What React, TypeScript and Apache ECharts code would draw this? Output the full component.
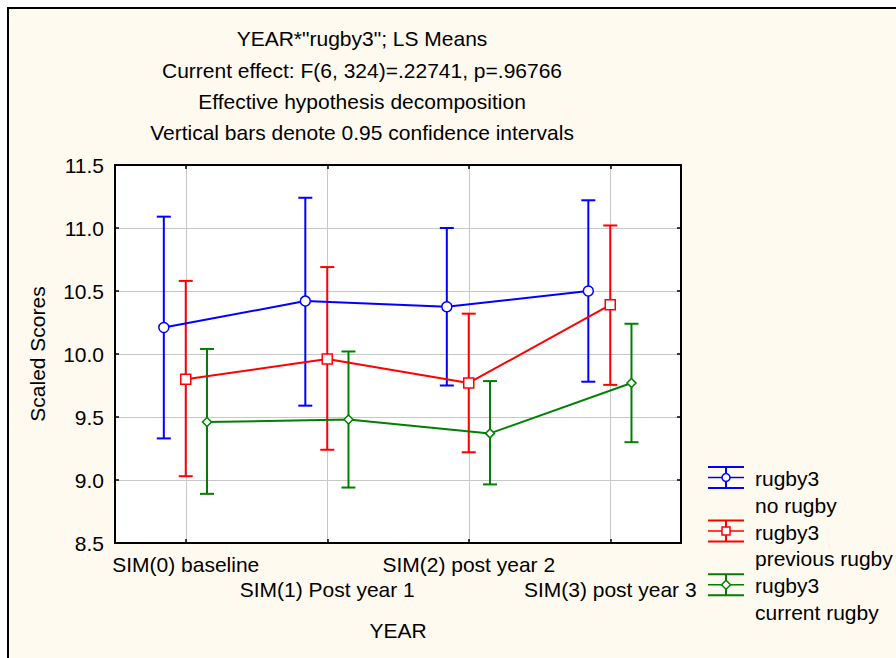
import React, { useEffect, useRef } from 'react';
import * as echarts from 'echarts';

const categories = ['SIM(0) baseline', 'SIM(1) Post year 1', 'SIM(2) post year 2', 'SIM(3) post year 3'];
const yTicks = [8.5, 9.0, 9.5, 10.0, 10.5, 11.0, 11.5];

const noRugbyMean = [10.21, 10.42, 10.375, 10.5];
const noRugbyLow = [9.33, 9.59, 9.75, 9.78];
const noRugbyHigh = [11.09, 11.24, 11.0, 11.22];

const prevRugbyMean = [9.8, 9.96, 9.77, 10.39];
const prevRugbyLow = [9.03, 9.24, 9.22, 9.755];
const prevRugbyHigh = [10.58, 10.69, 10.32, 11.02];

const curRugbyMean = [9.46, 9.48, 9.37, 9.77];
const curRugbyLow = [8.89, 8.94, 8.965, 9.3];
const curRugbyHigh = [10.04, 10.02, 9.785, 10.24];

const titleLines = [
  'YEAR*"rugby3"; LS Means',
  'Current effect: F(6, 324)=.22741, p=.96766',
  'Effective hypothesis decomposition',
  'Vertical bars denote 0.95 confidence intervals',
];

const legendNames = [
  ['rugby3', 'no rugby'],
  ['rugby3', 'previous rugby'],
  ['rugby3', 'current rugby'],
];

const FONT = '"Liberation Sans", Arial, sans-serif';
const FS = 21;
const BG = '#FFFAEF';
const COLORS = ['#0000FF', '#FF0000', '#008000'];
const SYMBOLS = ['circle', 'rect', 'diamond'];
const SYMBOL_SIZES = [10, 10, 9];
const OFFSETS = [-0.155, 0, 0.15];

const groups = [
  { mean: noRugbyMean, low: noRugbyLow, high: noRugbyHigh },
  { mean: prevRugbyMean, low: prevRugbyLow, high: prevRugbyHigh },
  { mean: curRugbyMean, low: curRugbyLow, high: curRugbyHigh },
];

function errorBarSeries(k: number) {
  const g = groups[k];
  const color = COLORS[k];
  return {
    type: 'custom',
    xAxisIndex: 2,
    yAxisIndex: 0,
    z: 2,
    silent: true,
    encode: { x: 0, y: [1, 2] },
    data: g.mean.map((_, i) => [i + OFFSETS[k], g.low[i], g.high[i]]),
    renderItem: (params: any, api: any) => {
      const x = api.value(0);
      const lo = api.coord([x, api.value(1)]);
      const hi = api.coord([x, api.value(2)]);
      const hw = 7;
      const st = { stroke: color, lineWidth: 2 };
      return {
        type: 'group',
        children: [
          { type: 'line', shape: { x1: lo[0], y1: lo[1], x2: hi[0], y2: hi[1] }, style: st },
          { type: 'line', shape: { x1: lo[0] - hw, y1: lo[1], x2: lo[0] + hw, y2: lo[1] }, style: st },
          { type: 'line', shape: { x1: hi[0] - hw, y1: hi[1], x2: hi[0] + hw, y2: hi[1] }, style: st },
        ],
      };
    },
  };
}

function meanSeries(k: number) {
  const g = groups[k];
  const color = COLORS[k];
  return {
    type: 'line',
    name: legendNames[k].join(' '),
    xAxisIndex: 2,
    yAxisIndex: 0,
    z: 3,
    color,
    data: g.mean.map((v, i) => [i + OFFSETS[k], v]),
    symbol: SYMBOLS[k],
    symbolSize: SYMBOL_SIZES[k],
    showAllSymbol: true,
    lineStyle: { color, width: 2 },
    itemStyle: { color: '#FFFFFF', borderColor: color, borderWidth: 1.5 },
  };
}

function legendGraphics() {
  const out: any[] = [];
  legendNames.forEach((names, k) => {
    const y0 = 467 + k * 53.6;
    const color = COLORS[k];
    const st = { stroke: color, lineWidth: 2 };
    const cx = 726;
    const cy = y0 + 10.5;
    out.push({ type: 'line', shape: { x1: 708, y1: y0, x2: 744, y2: y0 }, style: st });
    out.push({ type: 'line', shape: { x1: 708, y1: y0 + 21, x2: 744, y2: y0 + 21 }, style: st });
    out.push({ type: 'line', shape: { x1: cx, y1: y0, x2: cx, y2: y0 + 21 }, style: st });
    out.push({ type: 'line', shape: { x1: 708, y1: cy, x2: 744, y2: cy }, style: { stroke: color, lineWidth: 1.5 } });
    const mst = { fill: '#FFFFFF', stroke: color, lineWidth: 1.5 };
    if (k === 0) out.push({ type: 'circle', shape: { cx, cy, r: 4 }, style: mst, z: 10 });
    if (k === 1) out.push({ type: 'rect', shape: { x: cx - 4, y: cy - 4, width: 8, height: 8 }, style: mst, z: 10 });
    if (k === 2)
      out.push({
        type: 'polygon',
        shape: { points: [[cx, cy - 4.5], [cx + 4.5, cy], [cx, cy + 4.5], [cx - 4.5, cy]] },
        style: mst,
        z: 10,
      });
    out.push({
      type: 'text',
      x: 755,
      y: y0 + 11.5,
      style: { text: names[0], fill: '#000', fontSize: FS, fontFamily: FONT, textAlign: 'left', textVerticalAlign: 'middle', verticalAlign: 'middle' },
    });
    out.push({
      type: 'text',
      x: 755,
      y: y0 + 38,
      style: { text: names[1], fill: '#000', fontSize: FS, fontFamily: FONT, textAlign: 'left', textVerticalAlign: 'middle', verticalAlign: 'middle' },
    });
  });
  return out;
}

function titleGraphics() {
  const ys = [38, 70.5, 101.5, 132];
  return titleLines.map((t, i) => ({
    type: 'text',
    x: 362,
    y: ys[i],
    style: { text: t, fill: '#000', fontSize: FS, fontFamily: FONT, textAlign: 'center', textVerticalAlign: 'middle', verticalAlign: 'middle' },
  }));
}

function frameGraphics() {
  return [
    { type: 'rect', shape: { x: 0, y: 0, width: 896, height: 7 }, style: { fill: '#FFFFFF' } },
    { type: 'rect', shape: { x: 0, y: 0, width: 7, height: 658 }, style: { fill: '#FFFFFF' } },
    { type: 'line', shape: { x1: 7, y1: 8, x2: 896, y2: 8 }, style: { stroke: '#000', lineWidth: 2 } },
    { type: 'line', shape: { x1: 8, y1: 7, x2: 8, y2: 658 }, style: { stroke: '#000', lineWidth: 2 } },
  ];
}

const axisText = { color: '#000', fontSize: FS, fontFamily: FONT };

const option: any = {
  animation: false,
  backgroundColor: BG,
  textStyle: { fontFamily: FONT },
  grid: { left: 115, top: 165, width: 566, height: 378, show: true, backgroundColor: '#FFFFFF', borderWidth: 0 },
  xAxis: [
    {
      type: 'category',
      position: 'bottom',
      data: categories,
      boundaryGap: true,
      name: 'YEAR',
      nameLocation: 'middle',
      nameGap: 77,
      nameTextStyle: axisText,
      axisLine: { show: true, onZero: false, lineStyle: { color: '#000', width: 2 } },
      axisTick: { show: true, inside: true, length: 4, alignWithLabel: true, lineStyle: { color: '#000', width: 1.5 } },
      axisLabel: {
        interval: 0,
        margin: 9,
        ...axisText,
        lineHeight: 25,
        formatter: (v: string, i: number) => (i % 2 === 1 ? '\n' + v : v),
      },
      splitLine: { show: true, alignWithLabel: true, lineStyle: { color: '#C8C8C8', width: 1 } },
    },
    {
      type: 'category',
      position: 'top',
      data: categories,
      boundaryGap: true,
      axisLine: { show: true, onZero: false, lineStyle: { color: '#000', width: 2 } },
      axisTick: { show: true, inside: true, length: 4, alignWithLabel: true, lineStyle: { color: '#000', width: 1.5 } },
      axisLabel: { show: false },
      splitLine: { show: false },
    },
    {
      type: 'value',
      show: false,
      min: -0.5,
      max: 3.5,
      axisLine: { onZero: false },
      splitLine: { show: false },
    },
  ],
  yAxis: [
    {
      type: 'value',
      position: 'left',
      min: yTicks[0],
      max: yTicks[yTicks.length - 1],
      interval: 0.5,
      name: 'Scaled Scores',
      nameLocation: 'middle',
      nameRotate: 90,
      nameGap: 67,
      nameTextStyle: axisText,
      axisLine: { show: true, onZero: false, lineStyle: { color: '#000', width: 2 } },
      axisTick: { show: true, inside: true, length: 4, lineStyle: { color: '#000', width: 1.5 } },
      axisLabel: { margin: 11, ...axisText, formatter: (v: number) => v.toFixed(1) },
      splitLine: { show: true, lineStyle: { color: '#C8C8C8', width: 1 } },
    },
    {
      type: 'value',
      position: 'right',
      min: yTicks[0],
      max: yTicks[yTicks.length - 1],
      interval: 0.5,
      axisLine: { show: true, onZero: false, lineStyle: { color: '#000', width: 2 } },
      axisTick: { show: true, inside: true, length: 4, lineStyle: { color: '#000', width: 1.5 } },
      axisLabel: { show: false },
      splitLine: { show: false },
    },
  ],
  graphic: [...frameGraphics(), ...titleGraphics(), ...legendGraphics()],
  series: [errorBarSeries(0), errorBarSeries(1), errorBarSeries(2), meanSeries(0), meanSeries(1), meanSeries(2)],
};

export default function App() {
  const ref = useRef<HTMLDivElement>(null);
  useEffect(() => {
    if (!ref.current) return;
    const chart = echarts.init(ref.current, undefined, { renderer: 'svg' });
    chart.setOption(option);
    return () => chart.dispose();
  }, []);
  return <div ref={ref} style={{ position: 'fixed', left: 0, top: 0, width: 896, height: 658 }} />;
}
